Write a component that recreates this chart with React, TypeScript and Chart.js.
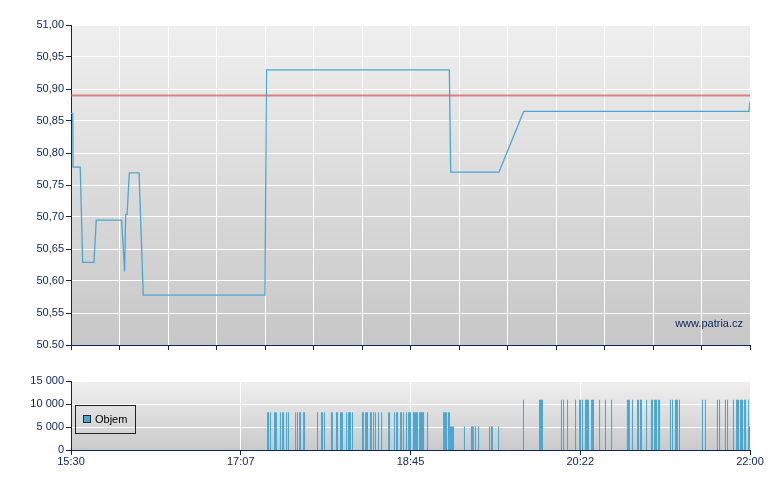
import React, { useEffect, useRef } from "react";
import { Chart, registerables } from "chart.js";

Chart.register(...registerables);

// ---- data ----
const SESSION_MINUTES = 390; // 15:30 -> 22:00
const priceGridCount = 14;

const priceMinutes = [0, 1.0, 1.2, 5.3, 6.7, 13.2, 14.5, 29.1, 30.8, 31.4, 32.2, 33.5, 39.1, 41.5, 111.4, 112.3, 217.3, 218.1, 245.8, 260.0, 389.4, 390];
const priceValues = [50.862, 50.862, 50.778, 50.778, 50.629, 50.629, 50.695, 50.695, 50.615, 50.704, 50.704, 50.769, 50.769, 50.578, 50.578, 50.93, 50.93, 50.77, 50.77, 50.865, 50.865, 50.88];
const referencePrice = 50.89;

const priceTickValues = [50.5, 50.55, 50.6, 50.65, 50.7, 50.75, 50.8, 50.85, 50.9, 50.95, 51.0];
const priceTickLabels = ["50.50", "50,55", "50,60", "50,65", "50,70", "50,75", "50,80", "50,85", "50,90", "50,95", "51,00"];

const volTickValues = [0, 5000, 10000, 15000];
const volTickLabels = ["0", "5 000", "10 000", "15 000"];
const timeTickValues = [0, 97.5, 195, 292.5, 390];
const timeTickLabels = ["15:30", "17:07", "18:45", "20:22", "22:00"];

const volumeLabel = "Objem";
const watermark = "www.patria.cz";

// volume bars: start (minutes after 15:30), duration (minutes), volume
const volStart = [
  112.6, 114.3, 116.6, 120.0, 121.2, 123.5, 124.6, 128.7, 129.8, 131.0, 133.3, 141.3, 143.6, 145.3, 149.3, 152.2, 154.5, 158.0, 159.1, 161.4,
  167.1, 168.9, 171.7, 173.5, 174.6, 176.3, 178.1, 182.1, 185.5, 186.7, 189.0, 190.7, 192.4, 193.6, 196.4, 199.9, 204.5, 213.7, 216.5, 217.7,
  225.7, 229.7, 232.0, 233.8, 240.1, 241.2, 245.3, 259.6, 268.8,
  281.4, 282.6, 284.9, 289.5, 291.8, 293.5, 295.2, 298.7, 303.3, 306.7, 310.2, 319.3, 322.2, 325.1, 326.8, 330.3, 333.1, 334.9,
  337.2, 344.0, 345.2, 346.9, 349.2, 362.4, 364.1, 371.0, 372.2, 375.6, 376.8, 380.2, 382.0, 384.3, 386.6, 388.9, 389.4,
];
const volDur = [
  1.15, 0.6, 1.7, 0.6, 1.15, 0.6, 0.6, 0.6, 0.6, 1.15, 1.15, 0.6, 1.15, 0.6, 1.15, 1.15, 1.7, 0.6, 1.7, 0.6,
  1.15, 1.7, 1.15, 0.6, 0.6, 0.6, 0.6, 1.15, 0.6, 1.15, 1.15, 0.6, 0.6, 1.7, 2.9, 2.9, 0.6, 2.3, 1.2, 2.3,
  0.6, 1.7, 0.6, 0.6, 0.6, 1.15, 0.6, 0.6, 2.3,
  0.6, 0.6, 0.6, 0.6, 1.15, 0.6, 2.3, 1.7, 0.6, 0.6, 0.6, 1.7, 0.6, 1.15, 1.15, 0.6, 1.15, 1.7,
  1.15, 0.6, 0.6, 1.7, 0.6, 0.6, 0.6, 0.6, 0.6, 0.6, 0.6, 0.6, 1.7, 1.7, 1.15, 0.5, 0.6,
];
const volValue = [
  8200, 8200, 8200, 8200, 8200, 8200, 8200, 8200, 8200, 8200, 8200, 8200, 8200, 8200, 8200, 8200, 8200, 8200, 8200, 8200,
  8200, 8200, 8200, 8200, 8200, 8200, 8200, 8200, 8200, 8200, 8200, 8200, 8200, 8200, 8200, 8200, 8200, 8200, 8200, 5100,
  5100, 5100, 5100, 5100, 5100, 5100, 5100, 10900, 10900,
  10900, 10900, 10900, 10900, 10900, 10900, 10900, 10900, 10900, 10900, 10900, 10900, 10900, 10900, 10900, 10900, 10900, 10900,
  10900, 10900, 10900, 10900, 10900, 10900, 10900, 10900, 10900, 10900, 10900, 10900, 10900, 10900, 10900, 10900, 5100,
];

// ---- styles ----
const NAVY = "#0e2556";
const BLUE = "#4ba7d1";
const FONT = { family: "'Liberation Sans', Arial, sans-serif", size: 11 };

const plotBackground = (top: string, bottom: string) => ({
  id: "plotBg",
  beforeDraw(chart: any) {
    const { ctx, chartArea } = chart;
    if (!chartArea) return;
    const g = ctx.createLinearGradient(0, chartArea.top, 0, chartArea.bottom);
    g.addColorStop(0, top);
    g.addColorStop(1, bottom);
    ctx.save();
    ctx.fillStyle = g;
    ctx.fillRect(chartArea.left, chartArea.top, chartArea.right - chartArea.left, chartArea.bottom - chartArea.top);
    ctx.restore();
  },
});

const watermarkPlugin = {
  id: "watermark",
  afterDatasetsDraw(chart: any) {
    const { ctx, chartArea } = chart;
    ctx.save();
    ctx.font = `${FONT.size}px ${FONT.family}`;
    ctx.fillStyle = NAVY;
    ctx.textAlign = "right";
    ctx.textBaseline = "middle";
    ctx.fillText(watermark, chartArea.right - 7, chartArea.bottom - 21);
    ctx.restore();
  },
};

const legendPlugin = {
  id: "boxLegend",
  afterDraw(chart: any) {
    const { ctx, chartArea } = chart;
    const ds = chart.data.datasets[0];
    const x = chartArea.left + 4;
    const y = chartArea.top + 24;
    ctx.save();
    ctx.strokeStyle = "#222";
    ctx.lineWidth = 1;
    ctx.strokeRect(Math.round(x) + 0.5, Math.round(y) + 0.5, 60, 28);
    ctx.fillStyle = ds.backgroundColor;
    ctx.fillRect(Math.round(x) + 8, Math.round(y) + 10, 8, 8);
    ctx.strokeStyle = "#1a2a3a";
    ctx.strokeRect(Math.round(x) + 8.5, Math.round(y) + 10.5, 7, 7);
    ctx.fillStyle = "#000";
    ctx.font = `${FONT.size}px ${FONT.family}`;
    ctx.textAlign = "left";
    ctx.textBaseline = "middle";
    ctx.fillText(ds.label, Math.round(x) + 20, Math.round(y) + 15);
    ctx.restore();
  },
};

export default function App() {
  const priceRef = useRef<HTMLCanvasElement>(null);
  const volRef = useRef<HTMLCanvasElement>(null);

  useEffect(() => {
    const gridStep = SESSION_MINUTES / priceGridCount;
    const priceChart = new Chart(priceRef.current!, {
      type: "line",
      data: {
        datasets: [
          {
            label: "ref",
            data: [
              { x: 0, y: referencePrice },
              { x: SESSION_MINUTES, y: referencePrice },
            ],
            borderColor: "rgba(212, 88, 88, 0.7)",
            borderWidth: 2,
            pointRadius: 0,
          },
          {
            label: "price",
            data: priceMinutes.map((m, i) => ({ x: m, y: priceValues[i] })),
            borderColor: BLUE,
            borderWidth: 1.3,
            pointRadius: 0,
            tension: 0,
          },
        ],
      },
      options: {
        responsive: false,
        animation: false,
        devicePixelRatio: 1,
        layout: { padding: { left: 0, right: 30, top: 25, bottom: 0 } },
        plugins: { legend: { display: false }, tooltip: { enabled: false } },
        scales: {
          x: {
            type: "linear",
            min: 0,
            max: SESSION_MINUTES,
            afterBuildTicks: (s: any) => {
              s.ticks = Array.from({ length: priceGridCount + 1 }, (_, i) => ({ value: i * gridStep }));
            },
            ticks: { display: false },
            grid: { color: "#ffffff", lineWidth: 1, tickColor: NAVY, tickLength: 5 },
            border: { color: NAVY, width: 1 },
            afterFit: (s: any) => {
              s.height = 15;
            },
          },
          y: {
            type: "linear",
            min: 50.5,
            max: 51.0,
            afterBuildTicks: (s: any) => {
              s.ticks = priceTickValues.map((v) => ({ value: v }));
            },
            ticks: {
              callback: (_v: any, i: number) => priceTickLabels[i],
              color: NAVY,
              font: FONT,
              padding: 2,
            },
            grid: { color: "#ffffff", lineWidth: 1, tickColor: NAVY, tickLength: 5 },
            border: { color: NAVY, width: 1 },
            afterFit: (s: any) => {
              s.width = 71;
            },
          },
        },
      },
      plugins: [plotBackground("#efefef", "#c7c7c7"), watermarkPlugin],
    } as any);

    const volPoints: { x: number; y: number }[] = [{ x: 0, y: 0 }];
    volStart.forEach((s, i) => {
      volPoints.push({ x: s, y: volValue[i] });
      volPoints.push({ x: Math.min(SESSION_MINUTES, s + volDur[i]), y: 0 });
    });
    volPoints.push({ x: SESSION_MINUTES, y: 0 });

    const volChart = new Chart(volRef.current!, {
      type: "line",
      data: {
        datasets: [
          {
            label: volumeLabel,
            data: volPoints,
            stepped: true,
            fill: "origin",
            backgroundColor: BLUE,
            borderColor: "rgba(0,0,0,0)",
            borderWidth: 0,
            pointRadius: 0,
          },
        ],
      },
      options: {
        responsive: false,
        animation: false,
        devicePixelRatio: 1,
        layout: { padding: { left: 0, right: 30, top: 21, bottom: 0 } },
        plugins: { legend: { display: false }, tooltip: { enabled: false } },
        scales: {
          x: {
            type: "linear",
            min: 0,
            max: SESSION_MINUTES,
            afterBuildTicks: (s: any) => {
              s.ticks = timeTickValues.map((v) => ({ value: v }));
            },
            ticks: {
              callback: (_v: any, i: number) => timeTickLabels[i],
              color: NAVY,
              font: FONT,
              padding: 0,
              maxRotation: 0,
              autoSkip: false,
            },
            grid: { color: "#ffffff", lineWidth: 1, tickColor: NAVY, tickLength: 5 },
            border: { color: NAVY, width: 1 },
            afterFit: (s: any) => {
              s.height = 40;
            },
          },
          y: {
            type: "linear",
            min: 0,
            max: 15000,
            afterBuildTicks: (s: any) => {
              s.ticks = volTickValues.map((v) => ({ value: v }));
            },
            ticks: {
              callback: (_v: any, i: number) => volTickLabels[i],
              color: NAVY,
              font: FONT,
              padding: 2,
            },
            grid: { color: "#ffffff", lineWidth: 1, tickColor: NAVY, tickLength: 5 },
            border: { color: NAVY, width: 1 },
            afterFit: (s: any) => {
              s.width = 71;
            },
          },
        },
      },
      plugins: [plotBackground("#f0f0f0", "#cacaca"), legendPlugin],
    } as any);

    return () => {
      priceChart.destroy();
      volChart.destroy();
    };
  }, []);

  return (
    <div style={{ position: "absolute", left: 0, top: 0, width: 780, height: 490, background: "#fff" }}>
      <canvas ref={priceRef} width={780} height={360} style={{ position: "absolute", left: 0, top: 0, display: "block" }} />
      <canvas ref={volRef} width={780} height={130} style={{ position: "absolute", left: 0, top: 360, display: "block" }} />
    </div>
  );
}
